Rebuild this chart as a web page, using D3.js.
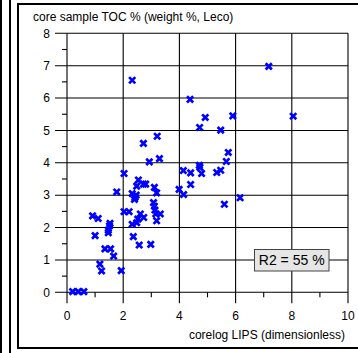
<!DOCTYPE html>
<html>
<head>
<meta charset="utf-8">
<script src="https://cdn.jsdelivr.net/npm/d3@7"></script>
<style>
  html, body { margin: 0; padding: 0; background: #fff; }
  svg { display: block; font-family: "Liberation Sans", Arial, sans-serif; }
</style>
</head>
<body>
<svg id="chart" width="358" height="353"></svg>
<script>
// ---- data ----
const lipsValues = [2.72, 2.93, 3.29, 4.14, 2.03, 2.54, 2.48, 2.72, 2.80, 3.11,
  3.19, 3.99, 4.15, 1.77, 2.32, 2.42, 2.40, 2.46, 3.08, 3.11,
  3.13, 3.16, 3.32, 3.19, 2.03, 2.21, 2.61, 2.73, 2.52, 2.48,
  2.32, 0.91, 1.11, 1.53, 1.51, 1.47, 1.47, 1.00, 2.36, 2.57,
  2.98, 1.35, 1.55, 1.66, 1.17, 1.23, 1.93, 0.20, 0.40, 0.60,
  4.38, 4.92, 5.90, 8.05, 4.72, 5.47, 5.74, 5.67, 4.40, 4.71,
  4.73, 4.79, 5.33, 5.47, 4.40, 5.60, 6.16, 7.18, 2.32, 3.21];
const tocValues = [4.60, 4.03, 4.13, 3.76, 3.67, 3.47, 3.28, 3.34, 3.34, 3.24,
  3.07, 3.18, 3.02, 3.10, 3.05, 2.93, 2.87, 3.00, 2.77, 2.66,
  2.54, 2.42, 2.42, 2.21, 2.49, 2.49, 2.42, 2.31, 2.26, 2.15,
  2.10, 2.36, 2.28, 2.13, 2.05, 1.92, 1.84, 1.75, 1.72, 1.46,
  1.48, 1.34, 1.34, 1.12, 0.87, 0.66, 0.67, 0.02, 0.02, 0.02,
  5.96, 5.40, 5.45, 5.44, 5.09, 5.01, 4.32, 4.04, 3.69, 3.92,
  3.86, 3.67, 3.70, 3.77, 3.33, 2.72, 2.92, 6.98, 6.55, 4.82];
const xTickLabels = [0, 2, 4, 6, 8, 10];
const yTickLabels = [0, 1, 2, 3, 4, 5, 6, 7, 8];
const xMinorTicks = [1, 3, 5, 7, 9];
const yMinorTicks = [0.5, 1.5, 2.5, 3.5, 4.5, 5.5, 6.5, 7.5];
const yTitle = "core sample TOC % (weight %, Leco)";
const xTitle = "corelog LIPS (dimensionless)";
const statLabel = "R2 = 55 %";

// ---- layout ----
const svg = d3.select("#chart");
const x = d3.scaleLinear().domain([0, 10]).range([67, 348]);
const y = d3.scaleLinear().domain([0, 8]).range([292.3, 33.3]);

// outer frame lines
svg.append("line").attr("x1", 1).attr("x2", 1).attr("y1", 0).attr("y2", 353)
  .attr("stroke", "#000").attr("stroke-width", 2);
svg.append("line").attr("x1", 10).attr("x2", 10).attr("y1", 0).attr("y2", 353)
  .attr("stroke", "#000").attr("stroke-width", 2);
svg.append("path").attr("d", "M360,4H18V348H360")
  .attr("fill", "none").attr("stroke", "#000").attr("stroke-width", 2);

// grid + major ticks
const g = svg.append("g");
g.selectAll(".vgrid").data(xTickLabels).join("line")
  .attr("x1", d => x(d)).attr("x2", d => x(d))
  .attr("y1", y(8)).attr("y2", y(0) + 11)
  .attr("stroke", "#000").attr("stroke-width", 1.1);
g.selectAll(".hgrid").data(yTickLabels).join("line")
  .attr("x1", x(0) - 12).attr("x2", x(10))
  .attr("y1", d => y(d)).attr("y2", d => y(d))
  .attr("stroke", "#000").attr("stroke-width", 1.1);
// minor ticks
g.selectAll(".xminor").data(xMinorTicks).join("line")
  .attr("x1", d => x(d)).attr("x2", d => x(d))
  .attr("y1", y(0)).attr("y2", y(0) + 5)
  .attr("stroke", "#000").attr("stroke-width", 1.1);
g.selectAll(".yminor").data(yMinorTicks).join("line")
  .attr("x1", x(0) - 5).attr("x2", x(0))
  .attr("y1", d => y(d)).attr("y2", d => y(d))
  .attr("stroke", "#000").attr("stroke-width", 1.1);

// tick labels
svg.selectAll(".xl").data(xTickLabels).join("text")
  .attr("x", d => x(d)).attr("y", 320)
  .attr("text-anchor", "middle").attr("font-size", 12).attr("fill", "#000")
  .text(d => d);
svg.selectAll(".yl").data(yTickLabels).join("text")
  .attr("x", 50).attr("y", d => y(d) + 4.3)
  .attr("text-anchor", "end").attr("font-size", 12).attr("fill", "#000")
  .text(d => d);

// titles
svg.append("text").attr("x", 33).attr("y", 20.5).attr("font-size", 12)
  .attr("fill", "#000").text(yTitle);
svg.append("text").attr("x", 345).attr("y", 338.5).attr("font-size", 12)
  .attr("text-anchor", "end").attr("fill", "#000").text(xTitle);

// R2 box
svg.append("rect").attr("x", 254.5).attr("y", 249.5).attr("width", 74.5).attr("height", 21.5)
  .attr("fill", "#e6e6e6").attr("stroke", "#444").attr("stroke-width", 1);
svg.append("text").attr("x", 291.7).attr("y", 265.3).attr("font-size", 14)
  .attr("text-anchor", "middle").attr("fill", "#000").text(statLabel);

// markers
const pts = lipsValues.map((v, i) => [v, tocValues[i]]);
svg.append("g").selectAll("path").data(pts).join("path")
  .attr("transform", d => `translate(${x(d[0])},${y(d[1])})`)
  .attr("d", "M-3.1,-3.1L3.1,3.1M-3.1,3.1L3.1,-3.1")
  .attr("stroke", "#0000ff").attr("stroke-width", 2.7).attr("fill", "none");
</script>
</body>
</html>
